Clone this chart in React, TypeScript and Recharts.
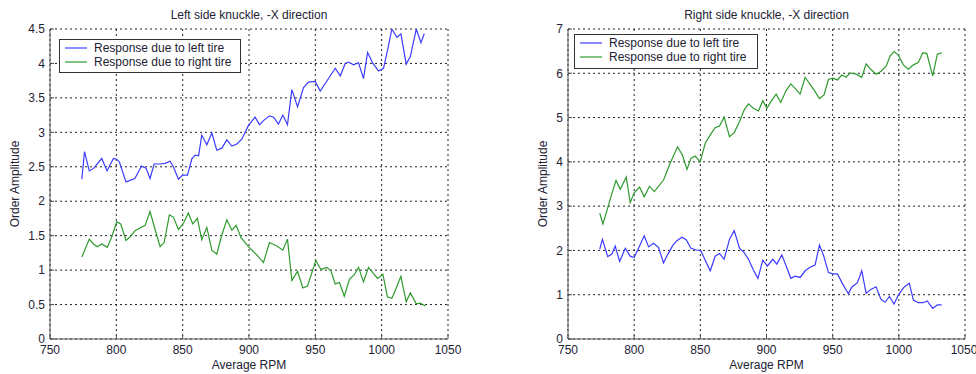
import React from "react";
import { LineChart, Line, XAxis, YAxis, CartesianGrid } from "recharts";

// ---------- Data ----------
const xTicks = [750, 800, 850, 900, 950, 1000, 1050];
const leftYTicks = [0, 0.5, 1, 1.5, 2, 2.5, 3, 3.5, 4, 4.5];
const rightYTicks = [0, 1, 2, 3, 4, 5, 6, 7];

const leftTitle = "Left side knuckle, -X direction";
const rightTitle = "Right side knuckle, -X direction";
const xLabel = "Average RPM";
const yLabel = "Order Amplitude";
const seriesNames = ["Response due to left tire", "Response due to right tire"];

// Left chart, response due to left tire (blue)
const leftBlueRpm = [774, 776, 779.6, 783, 789, 793, 797.8, 800.3, 802.3, 807.3, 814, 819, 822.4, 825.4, 828.5, 833, 836.7, 840.5, 843, 846.8, 850, 853.6, 857, 859.4, 862, 864.4, 868.2, 872, 875.7, 879.5, 883.3, 887.1, 890.8, 894.6, 899.6, 904.6, 907.9, 910.9, 915.4, 918.5, 922.2, 925.5, 929, 932.3, 936.6, 941.1, 944.9, 949.9, 953.7, 959.2, 965, 968.8, 972.5, 975, 978.8, 982.6, 986.3, 989.4, 993.4, 997.7, 1001.4, 1004.4, 1007.7, 1011.5, 1014.5, 1018.5, 1021.6, 1026.1, 1029.6, 1032.1];
const leftBlueAmp = [2.32, 2.72, 2.44, 2.48, 2.62, 2.44, 2.62, 2.61, 2.57, 2.28, 2.33, 2.51, 2.48, 2.33, 2.54, 2.54, 2.55, 2.58, 2.5, 2.32, 2.38, 2.38, 2.62, 2.67, 2.66, 2.96, 2.82, 2.99, 2.74, 2.77, 2.89, 2.8, 2.83, 2.9, 3.1, 3.22, 3.11, 3.17, 3.24, 3.22, 3.12, 3.25, 3.11, 3.62, 3.37, 3.65, 3.73, 3.74, 3.6, 3.76, 3.93, 3.82, 4.0, 4.02, 3.98, 4.01, 3.78, 4.16, 4.0, 3.89, 3.93, 4.19, 4.5, 4.38, 4.43, 3.99, 4.1, 4.5, 4.3, 4.43];

// Left chart, response due to right tire (green)
const leftGreenRpm = [774, 779.6, 782.7, 785.7, 789, 793.2, 796.5, 800.3, 803.3, 807.3, 810.3, 814.1, 817.9, 821.7, 825.4, 829.2, 833, 836, 840, 843, 846.8, 850.6, 854.3, 857.6, 861.1, 864.4, 868.2, 872, 875.7, 879.5, 883.3, 887.1, 890.3, 894, 899.6, 905.9, 910.9, 915.4, 921, 925.5, 929, 932.3, 936.6, 940.6, 944.1, 950.4, 954.2, 958.7, 961.7, 965, 968.2, 971.8, 975.8, 979.3, 982.6, 986.3, 990.1, 993.4, 996.9, 1000.9, 1004.4, 1007.7, 1011, 1014.5, 1018.5, 1021.6, 1026.1, 1029.1, 1032.9];
const leftGreenAmp = [1.19, 1.45, 1.38, 1.34, 1.38, 1.33, 1.48, 1.7, 1.67, 1.43, 1.48, 1.57, 1.61, 1.65, 1.85, 1.59, 1.34, 1.4, 1.8, 1.77, 1.59, 1.68, 1.83, 1.67, 1.75, 1.44, 1.62, 1.29, 1.23, 1.51, 1.73, 1.58, 1.65, 1.47, 1.34, 1.22, 1.11, 1.4, 1.35, 1.29, 1.45, 0.85, 0.98, 0.74, 0.77, 1.14, 1.01, 1.04, 0.99, 0.8, 0.82, 0.62, 0.87, 0.93, 1.04, 0.83, 1.04, 0.96, 0.88, 0.94, 0.61, 0.59, 0.74, 0.91, 0.54, 0.67, 0.51, 0.52, 0.48];

// Right chart, response due to left tire (blue)
const rightBlueRpm = [774, 776, 780, 783.2, 785.7, 789, 793.3, 797, 800, 803.3, 807.6, 810.9, 814.6, 818.4, 822.2, 825.2, 829.3, 832.3, 836.1, 839.3, 842.9, 846.9, 850.4, 853.7, 857.5, 861.2, 864.5, 868, 872, 875.6, 879.6, 883.1, 886.4, 890.1, 893.5, 897.2, 900.7, 904.8, 907.8, 911.6, 918.4, 921.6, 925.4, 929.2, 932.9, 936.7, 940, 943, 946.8, 950.1, 953.6, 957.6, 961.9, 964.4, 968.7, 972, 975.3, 978.8, 982.8, 986.4, 989.6, 992.9, 996.4, 999.6, 1003.9, 1007.9, 1011, 1014.7, 1018.5, 1021.5, 1025.6, 1029.1, 1032.4];
const rightBlueAmp = [2.03, 2.25, 1.86, 1.92, 2.1, 1.75, 2.05, 1.87, 1.84, 2.05, 2.33, 2.08, 2.16, 2.07, 1.72, 1.9, 2.12, 2.22, 2.3, 2.24, 2.05, 2.01, 1.99, 1.78, 1.54, 1.87, 1.93, 1.8, 2.25, 2.45, 2.05, 1.95, 1.8, 1.56, 1.37, 1.78, 1.65, 1.8, 1.69, 1.9, 1.37, 1.42, 1.39, 1.54, 1.62, 1.67, 2.12, 1.9, 1.5, 1.47, 1.47, 1.24, 1.02, 1.17, 1.27, 1.54, 1.03, 1.12, 1.18, 0.9, 0.83, 0.96, 0.79, 0.99, 1.17, 1.26, 0.88, 0.82, 0.82, 0.86, 0.69, 0.77, 0.77];

// Right chart, response due to right tire (green)
const rightGreenRpm = [774, 776.4, 779.9, 783.2, 786.3, 789.5, 794, 797, 800, 804.1, 807.6, 811.6, 815.2, 822.2, 827.2, 832.8, 836.5, 839.9, 842.9, 846.1, 849.9, 853.7, 857.5, 861.2, 864.5, 868, 872, 875.6, 879.6, 883.1, 886.4, 890.1, 893.9, 897.2, 900.3, 903.3, 907.3, 910.8, 914.8, 918.4, 921.6, 925.4, 929.2, 932.4, 936, 940, 943.5, 946.8, 950.1, 953.6, 956.9, 960.2, 963.2, 967.7, 972, 975.3, 978.8, 982.8, 986.4, 990.4, 993.4, 996.4, 999.6, 1003.4, 1007.2, 1011, 1014.7, 1018, 1021.1, 1025.6, 1029.1, 1032.4];
const rightGreenAmp = [2.84, 2.6, 2.95, 3.29, 3.58, 3.38, 3.66, 3.08, 3.3, 3.43, 3.21, 3.45, 3.33, 3.59, 3.97, 4.34, 4.15, 3.83, 4.08, 4.13, 4.0, 4.42, 4.61, 4.77, 4.81, 5.01, 4.57, 4.66, 4.91, 5.17, 5.31, 5.21, 5.15, 5.38, 5.21, 5.36, 5.53, 5.34, 5.61, 5.76, 5.66, 5.53, 5.91, 5.77, 5.62, 5.43, 5.51, 5.86, 5.89, 5.85, 5.96, 5.91, 6.01, 5.98, 5.91, 6.21, 6.09, 5.98, 6.04, 6.16, 6.39, 6.49, 6.41, 6.19, 6.09, 6.19, 6.24, 6.46, 6.45, 5.94, 6.43, 6.46];

// ---------- Styling ----------
const FONT = "'Liberation Sans', Arial, sans-serif";
const BLUE = "#3c3cff";
const GREEN = "#2e9a2e";
const AXIS = "#505050";
const TEXT = "#222233";

const toSeries = (xs: number[], ys: number[]) => xs.map((rpm, i) => ({ rpm, v: ys[i] }));

type PanelProps = {
  left: number;
  width: number;
  margin: { top: number; right: number; bottom: number; left: number };
  yMax: number;
  yTicks: number[];
  blue: { rpm: number; v: number }[];
  green: { rpm: number; v: number }[];
};

function Panel({ left, width, margin, yMax, yTicks, blue, green }: PanelProps) {
  const tickStyle = { fontSize: 12, fill: TEXT, fontFamily: FONT };
  return (
    <div style={{ position: "absolute", left, top: 0 }}>
      <LineChart width={width} height={374} margin={margin}>
        <CartesianGrid stroke="#222" strokeDasharray="2 3" strokeWidth={1} />
        <XAxis
          dataKey="rpm"
          type="number"
          domain={[750, 1050]}
          ticks={xTicks}
          allowDataOverflow
          height={35}
          tick={tickStyle}
          tickSize={-4}
          tickMargin={10}
          stroke={AXIS}
          tickLine={{ stroke: AXIS }}
        />
        <XAxis
          xAxisId="top"
          orientation="top"
          dataKey="rpm"
          type="number"
          domain={[750, 1050]}
          ticks={xTicks}
          height={0}
          tick={false}
          tickSize={-4}
          stroke={AXIS}
        />
        <YAxis
          type="number"
          domain={[0, yMax]}
          ticks={yTicks}
          allowDataOverflow
          width={50}
          tick={tickStyle}
          tickSize={-4}
          tickMargin={9}
          stroke={AXIS}
          tickLine={{ stroke: AXIS }}
        />
        <YAxis
          yAxisId="right"
          orientation="right"
          type="number"
          domain={[0, yMax]}
          ticks={yTicks}
          width={0}
          tick={false}
          tickSize={-4}
          stroke={AXIS}
        />
        <Line
          data={blue}
          dataKey="v"
          type="linear"
          stroke={BLUE}
          strokeWidth={1.2}
          dot={false}
          isAnimationActive={false}
        />
        <Line
          data={green}
          dataKey="v"
          type="linear"
          stroke={GREEN}
          strokeWidth={1.2}
          dot={false}
          isAnimationActive={false}
        />
      </LineChart>
    </div>
  );
}

function LegendBox({ x, y, w, h }: { x: number; y: number; w: number; h: number }) {
  const row1 = y + 9;
  const row2 = y + 23;
  return (
    <g>
      <rect x={x + 0.5} y={y + 0.5} width={w} height={h} fill="#fff" stroke="#333" strokeWidth={1} />
      <line x1={x + 6} x2={x + 28} y1={row1} y2={row1} stroke={BLUE} strokeWidth={1.2} />
      <line x1={x + 6} x2={x + 28} y1={row2} y2={row2} stroke={GREEN} strokeWidth={1.2} />
      <text x={x + 35} y={row1 + 4.3} fontSize={12} fill={TEXT} fontFamily={FONT}>
        {seriesNames[0]}
      </text>
      <text x={x + 35} y={row2 + 4.3} fontSize={12} fill={TEXT} fontFamily={FONT}>
        {seriesNames[1]}
      </text>
    </g>
  );
}

export default function App() {
  const lb = toSeries(leftBlueRpm, leftBlueAmp);
  const lg = toSeries(leftGreenRpm, leftGreenAmp);
  const rb = toSeries(rightBlueRpm, rightBlueAmp);
  const rg = toSeries(rightGreenRpm, rightGreenAmp);
  return (
    <div
      style={{
        position: "absolute",
        left: 0,
        top: 0,
        width: 976,
        height: 374,
        background: "#fff",
        overflow: "hidden",
      }}
    >
      <Panel
        left={0}
        width={470}
        margin={{ top: 29, right: 22, bottom: 0, left: 0 }}
        yMax={4.5}
        yTicks={leftYTicks}
        blue={lb}
        green={lg}
      />
      <Panel
        left={500}
        width={476}
        margin={{ top: 29, right: 11, bottom: 0, left: 18 }}
        yMax={7}
        yTicks={rightYTicks}
        blue={rb}
        green={rg}
      />
      <svg
        width={976}
        height={374}
        style={{ position: "absolute", left: 0, top: 0, pointerEvents: "none" }}
      >
        <text x={249} y={19} textAnchor="middle" fontSize={12} fill={TEXT} fontFamily={FONT}>
          {leftTitle}
        </text>
        <text x={766.5} y={19} textAnchor="middle" fontSize={12} fill={TEXT} fontFamily={FONT}>
          {rightTitle}
        </text>
        <text x={249} y={369} textAnchor="middle" fontSize={12} fill={TEXT} fontFamily={FONT}>
          {xLabel}
        </text>
        <text x={766.5} y={369} textAnchor="middle" fontSize={12} fill={TEXT} fontFamily={FONT}>
          {xLabel}
        </text>
        <text
          transform="translate(19,184) rotate(-90)"
          textAnchor="middle"
          fontSize={12}
          fill={TEXT}
          fontFamily={FONT}
        >
          {yLabel}
        </text>
        <text
          transform="translate(546.5,184) rotate(-90)"
          textAnchor="middle"
          fontSize={12}
          fill={TEXT}
          fontFamily={FONT}
        >
          {yLabel}
        </text>
        <LegendBox x={59} y={39} w={181} h={33} />
        <LegendBox x={574} y={34} w={183} h={34} />
      </svg>
    </div>
  );
}
